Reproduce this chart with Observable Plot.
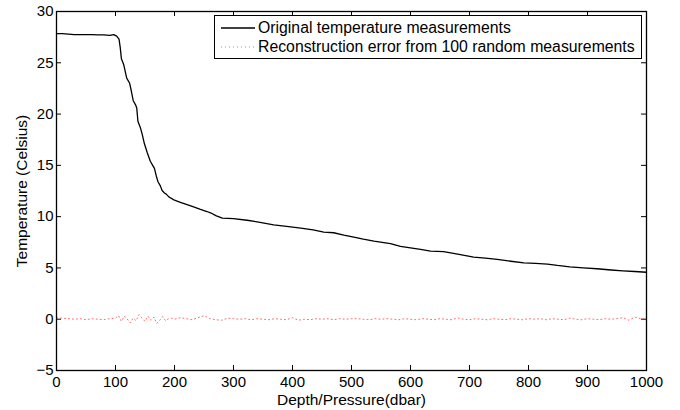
<!DOCTYPE html>
<html>
<head>
<meta charset="utf-8">
<script src="https://cdn.jsdelivr.net/npm/d3@7"></script>
<script src="https://cdn.jsdelivr.net/npm/@observablehq/plot@0.6"></script>
<style>
  html, body { margin: 0; padding: 0; background: #fff; }
  #wrap { position: relative; width: 680px; height: 410px; font-family: "Liberation Sans", Arial, Helvetica, sans-serif; }
  #legend { position: absolute; left: 214px; top: 15px; width: 428px; height: 44px; box-sizing: border-box;
            border: 1px solid #000; background: #fff; font-size: 15.8px; color: #000; }
  .row { position: absolute; left: 0; height: 20px; display: flex; align-items: center; white-space: nowrap; }
  .row svg { margin-left: 6px; margin-right: 3px; }
</style>
</head>
<body>
<div id="wrap"></div>
<script>
// Data
const depth = [0,10,20,30,40,50,60,70,80,90,97,102,106,108,110,114,119,124,127,130,134,136,138,142,145,149,154,159,163,166,169,172,176,179,183,186,190,194,200,210,220,230,244,255,262,270,281,300,323,345,368,390,414,435,453,470,487,504,520,538,552,566,583,600,617,634,656,680,707,727,747,770,792,812,832,849,870,893,916,940,960,980,1000];
const temperature = [27.85,27.85,27.8,27.75,27.75,27.75,27.74,27.73,27.72,27.68,27.75,27.6,27.3,26.5,25.4,24.8,23.5,23.0,22.2,21.3,20.9,20.6,19.3,18.7,18.1,17.1,16.2,15.4,15.0,14.7,14.0,13.4,13.0,12.55,12.3,12.2,11.95,11.8,11.6,11.4,11.2,11.0,10.7,10.5,10.35,10.1,9.85,9.8,9.65,9.45,9.2,9.05,8.88,8.7,8.5,8.43,8.2,8.0,7.8,7.61,7.5,7.36,7.1,6.95,6.8,6.64,6.58,6.35,6.05,5.95,5.83,5.65,5.5,5.45,5.38,5.24,5.1,5.0,4.92,4.8,4.72,4.65,4.58];

const errDepth = [0,10,20,30,40,50,60,70,80,90,100,105,110,115,120,125,130,135,140,145,150,155,160,165,170,175,180,185,190,195,200,210,220,230,240,250,260,270,280,290,300,310,320,330,340,350,360,370,380,390,400,410,420,430,440,450,460,470,480,490,500,510,520,530,540,550,560,570,580,590,600,610,620,630,640,650,660,670,680,690,700,710,720,730,740,750,760,770,780,790,800,810,820,830,840,850,860,870,880,890,900,910,920,930,940,950,960,970,980,990,1000];
const errValue = [0.15,0.1,0.05,0.0,0.05,-0.05,0.05,0.0,-0.05,0.05,0.1,0.35,-0.2,0.3,0.0,-0.35,0.1,-0.15,0.45,0.1,-0.2,0.3,-0.1,0.2,-0.4,-0.1,0.25,-0.15,0.05,0.1,0.0,0.15,0.05,-0.05,0.15,0.35,0.05,-0.05,-0.1,0.1,0.05,0.0,0.05,-0.05,0.05,0.0,-0.05,0.05,0.0,-0.05,0.15,-0.1,0.0,-0.05,0.05,0.0,0.05,-0.05,0.05,0.0,0.05,0.05,0.0,-0.05,0.05,0.0,0.05,0.0,-0.05,0.05,0.0,-0.05,0.05,0.0,-0.05,0.05,0.0,-0.05,0.12,0.0,-0.05,0.05,0.0,-0.05,0.05,0.0,-0.05,0.05,0.0,-0.05,0.05,0.0,0.05,-0.05,0.05,0.0,-0.05,0.1,0.0,-0.05,0.05,0.0,-0.05,0.05,0.0,0.05,0.15,-0.1,0.2,0.05,0.0];

const xTicks = [0,100,200,300,400,500,600,700,800,900,1000];
const yTicks = [-5,0,5,10,15,20,25,30];
const xTitle = "Depth/Pressure(dbar)";
const yTitle = "Temperature (Celsius)";
const legendLabels = ["Original temperature measurements", "Reconstruction error from 100 random measurements"];

const W = 680, H = 410, mL = 56, mR = 34, mT = 11, mB = 40;
const plotH = H - mT - mB, plotW = W - mL - mR, tick = 5;

const tempData = depth.map((d, i) => ({d, t: temperature[i]}));
const errData = errDepth.map((d, i) => ({d, e: errValue[i]}));
const fmt = d => d < 0 ? "\u2212" + Math.abs(d) : String(d);

const chart = Plot.plot({
  width: W, height: H,
  marginLeft: mL, marginRight: mR, marginTop: mT, marginBottom: mB,
  style: {fontFamily: '"Liberation Sans", Arial, Helvetica, sans-serif', fontSize: "15px", color: "#000", background: "#fff"},
  x: {domain: [0, 1000]},
  y: {domain: [-5, 30]},
  marks: [
    Plot.axisX({ticks: xTicks, tickSize: 0, tickPadding: 6, tickFormat: fmt, label: null, fontSize: 15}),
    Plot.axisY({ticks: yTicks, tickSize: 0, tickPadding: 3, tickFormat: fmt, label: null, fontSize: 15}),
    Plot.tickX(xTicks, {x: d => d, insetTop: plotH - tick, stroke: "#000"}),
    Plot.tickX(xTicks, {x: d => d, insetBottom: plotH - tick, stroke: "#000"}),
    Plot.tickY(yTicks, {y: d => d, insetRight: plotW - tick, stroke: "#000"}),
    Plot.tickY(yTicks, {y: d => d, insetLeft: plotW - tick, stroke: "#000"}),
    Plot.line(errData, {x: "d", y: "e", stroke: "#ff2020", strokeWidth: 0.9, strokeOpacity: 0.75, strokeDasharray: "1,3"}),
    Plot.line(tempData, {x: "d", y: "t", stroke: "#000", strokeWidth: 1.3}),
    Plot.frame({stroke: "#000", strokeWidth: 1.3}),
    Plot.text([xTitle], {text: d => d, frameAnchor: "bottom", textAnchor: "middle", lineAnchor: "middle", dy: 30, fontSize: 15.5}),
    Plot.text([yTitle], {text: d => d, frameAnchor: "left", textAnchor: "middle", lineAnchor: "middle", dx: -34, rotate: -90, fontSize: 15.5})
  ]
});

const wrap = document.getElementById("wrap");
wrap.appendChild(chart);

const legend = document.createElement("div");
legend.id = "legend";
const styles = [{stroke: "#000", dash: null, width: 1.3, op: 1}, {stroke: "#ff2020", dash: "1,3", width: 0.9, op: 0.75}];
legendLabels.forEach((lab, i) => {
  const row = document.createElement("div");
  row.className = "row";
  row.style.top = (2 + i * 19) + "px";
  const s = styles[i];
  row.innerHTML = `<svg width="34" height="10"><line x1="0" x2="34" y1="5" y2="5" stroke="${s.stroke}" stroke-width="${s.width}" stroke-opacity="${s.op}" ${s.dash ? `stroke-dasharray="${s.dash}"` : ""}/></svg><span>${lab}</span>`;
  legend.appendChild(row);
});
wrap.appendChild(legend);
</script>
</body>
</html>
